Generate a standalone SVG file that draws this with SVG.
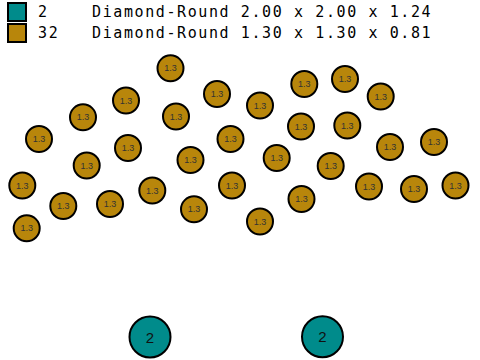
<svg xmlns="http://www.w3.org/2000/svg" width="480" height="360" viewBox="0 0 480 360">
<style>
.s{fill:#B8860B;stroke:#000;stroke-width:2}
.b{fill:#008B8B;stroke:#000;stroke-width:2}
.sl{font-family:"Liberation Sans",Arial,sans-serif;font-size:9px;fill:#333;text-anchor:middle;dominant-baseline:central}
.bl{font-family:"Liberation Sans",Arial,sans-serif;font-size:15px;fill:#111;text-anchor:middle;dominant-baseline:central}
.lg{font-family:"DejaVu Sans Mono",monospace;font-size:15px;letter-spacing:1.6px;fill:#000}
</style>
<defs>
<g id="sm"><circle r="13" class="s"/><text class="sl" y="0">1.3</text></g>
</defs>
<g id="legend">
<rect x="8" y="3" width="18" height="18" class="b"/>
<text class="lg" x="38" y="17">2</text>
<text class="lg" x="92" y="17">Diamond-Round 2.00 x 2.00 x 1.24</text>
<rect x="8" y="24" width="18" height="18" class="s"/>
<text class="lg" x="38" y="38">32</text>
<text class="lg" x="92" y="38">Diamond-Round 1.30 x 1.30 x 0.81</text>
</g>
<g id="small">
<g id="n1"><use href="#sm" x="170.5" y="68.3"/></g>
<g id="n2"><use href="#sm" x="126" y="100.5"/></g>
<g id="n3"><use href="#sm" x="217" y="94"/></g>
<g id="n4"><use href="#sm" x="83" y="117.3"/></g>
<g id="n5"><use href="#sm" x="176" y="116.5"/></g>
<g id="n6"><use href="#sm" x="260" y="105.5"/></g>
<g id="n7"><use href="#sm" x="304.3" y="84"/></g>
<g id="n8"><use href="#sm" x="345" y="79"/></g>
<g id="n9"><use href="#sm" x="380.7" y="96.5"/></g>
<g id="n10"><use href="#sm" x="39" y="139"/></g>
<g id="n11"><use href="#sm" x="128" y="148"/></g>
<g id="n12"><use href="#sm" x="230.5" y="139"/></g>
<g id="n13"><use href="#sm" x="301" y="126.5"/></g>
<g id="n14"><use href="#sm" x="347.3" y="125.5"/></g>
<g id="n15"><use href="#sm" x="390" y="147"/></g>
<g id="n16"><use href="#sm" x="434" y="142"/></g>
<g id="n17"><use href="#sm" x="86.7" y="165.5"/></g>
<g id="n18"><use href="#sm" x="190.5" y="160"/></g>
<g id="n19"><use href="#sm" x="276.7" y="158"/></g>
<g id="n20"><use href="#sm" x="330.7" y="166"/></g>
<g id="n21"><use href="#sm" x="22.3" y="185.5"/></g>
<g id="n22"><use href="#sm" x="152.3" y="190.5"/></g>
<g id="n23"><use href="#sm" x="232" y="185.5"/></g>
<g id="n24"><use href="#sm" x="369" y="186.5"/></g>
<g id="n25"><use href="#sm" x="414" y="189"/></g>
<g id="n26"><use href="#sm" x="455.5" y="185.5"/></g>
<g id="n27"><use href="#sm" x="63.3" y="206"/></g>
<g id="n28"><use href="#sm" x="110" y="204"/></g>
<g id="n29"><use href="#sm" x="194" y="209.3"/></g>
<g id="n30"><use href="#sm" x="301.5" y="199"/></g>
<g id="n31"><use href="#sm" x="260" y="221.5"/></g>
<g id="n32"><use href="#sm" x="26.7" y="228.3"/></g>
</g>
<g id="big">
<g id="b1"><circle cx="150" cy="337" r="20.5" class="b"/><text class="bl" x="150" y="337">2</text></g>
<g id="b2"><circle cx="322.5" cy="336.7" r="20.5" class="b"/><text class="bl" x="322.5" y="336.7">2</text></g>
</g>
<g id="connectors"/>
</svg>
